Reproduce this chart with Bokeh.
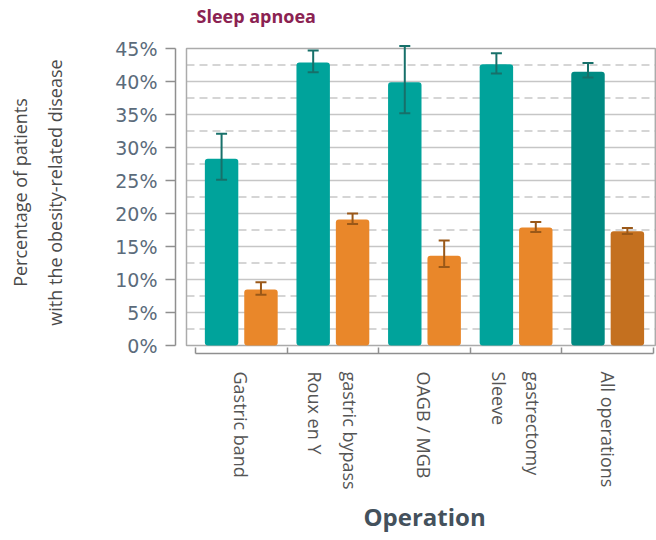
import numpy as np
from bokeh.plotting import figure
from bokeh.models import (ColumnDataSource, Range1d, LinearAxis, FixedTicker,
                          Whisker, TeeHead, PrintfTickFormatter, Title)
from bokeh.embed import file_html
from bokeh.resources import INLINE

# ---------------- data ----------------
categories = ["Gastric band", "Roux en Y\ngastric bypass", "OAGB / MGB",
              "Sleeve\ngastrectomy", "All operations"]
before_surgery = [28.3, 42.9, 39.9, 42.6, 41.5]
before_low = [25.1, 41.4, 35.2, 41.2, 40.6]
before_high = [32.1, 44.7, 45.4, 44.3, 42.8]
after_surgery = [8.5, 19.1, 13.6, 17.9, 17.3]
after_low = [7.7, 18.4, 11.9, 17.2, 16.9]
after_high = [9.6, 20.0, 15.9, 18.7, 17.8]
y_ticks = [0, 5, 10, 15, 20, 25, 30, 35, 40, 45]
solid_grid = [5, 10, 15, 20, 25, 30, 35, 40]
dashed_grid = [2.5, 7.5, 12.5, 17.5, 22.5, 27.5, 32.5, 37.5, 42.5]

# ---------------- styles ----------------
TEAL, TEAL_DARK = "#00a39b", "#008a82"
ORANGE, ORANGE_DARK = "#e9872a", "#c4701f"
TEAL_ERR, ORANGE_ERR = "#17706a", "#9a5818"
teal_colors = [TEAL] * 4 + [TEAL_DARK]
orange_colors = [ORANGE] * 4 + [ORANGE_DARK]
FONT = "Open Sans"

n = len(categories)
centers = np.arange(n) + 0.5
OFF, BW = 0.215, 0.365
BOX_L, BOX_R = -0.098, 5.02
LINE_GAP = 0.19  # spacing between lines of a wrapped category label

p = figure(width=656, height=540,
           x_range=Range1d(-0.218, 5.0328), y_range=Range1d(-1.21, 47.58),
           output_backend="svg", toolbar_location=None, x_axis_location=None,
           min_border_left=175, min_border_right=0, min_border_top=31,
           min_border_bottom=187)
p.outline_line_color = None
p.grid.visible = False

# grid lines and box
p.segment(x0=[BOX_L] * len(solid_grid), x1=[BOX_R] * len(solid_grid),
          y0=solid_grid, y1=solid_grid, line_color="#c6c6c6", line_width=1.5)
p.segment(x0=[BOX_L] * len(dashed_grid), x1=[BOX_R] * len(dashed_grid),
          y0=dashed_grid, y1=dashed_grid, line_color="#c8c8c8", line_width=1.5,
          line_dash="8 5")
p.quad(left=[BOX_L], right=[BOX_R], bottom=[0], top=[y_ticks[-1]],
       fill_color=None, line_color="#ababab", line_width=1.5)

# bars
src_b = ColumnDataSource(dict(x=centers - OFF, top=before_surgery,
                              lo=before_low, hi=before_high, color=teal_colors))
src_a = ColumnDataSource(dict(x=centers + OFF, top=after_surgery,
                              lo=after_low, hi=after_high, color=orange_colors))
p.vbar(x="x", top="top", bottom=0, width=BW, fill_color="color",
       line_color=None, border_radius=3, source=src_b)
p.vbar(x="x", top="top", bottom=0, width=BW, fill_color="color",
       line_color=None, border_radius=3, source=src_a)

for src, col in ((src_b, TEAL_ERR), (src_a, ORANGE_ERR)):
    w = Whisker(source=src, base="x", upper="hi", lower="lo", dimension="height",
                line_color=col, line_width=2, level="overlay",
                upper_head=TeeHead(size=11, line_color=col, line_width=2),
                lower_head=TeeHead(size=11, line_color=col, line_width=2))
    p.add_layout(w)

# y axis
yax = p.yaxis[0]
yax.ticker = FixedTicker(ticks=y_ticks)
yax.bounds = (y_ticks[0], y_ticks[-1])
yax.formatter = PrintfTickFormatter(format="%d%%")
yax.major_tick_out = 10
yax.major_tick_in = 0
yax.minor_tick_line_color = None
yax.axis_line_color = "#8f8f8f"
yax.axis_line_width = 1.5
yax.major_tick_line_color = "#8f8f8f"
yax.major_tick_line_width = 1.5
yax.major_label_text_font = "DejaVu Sans"
yax.major_label_text_font_size = "19px"
yax.major_label_text_color = "#5b6b7b"
yax.major_label_standoff = 8
yax.axis_label = "Percentage of patients\nwith the obesity-related disease"
yax.axis_label_text_font = FONT
yax.axis_label_text_font_size = "18px"
yax.axis_label_text_font_style = "normal"
yax.axis_label_text_color = "#4a4a4a"
yax.axis_label_text_line_height = 1.45
yax.axis_label_standoff = 45

# x axis: boundary ticks
bx = LinearAxis(ticker=FixedTicker(ticks=list(range(n + 1))), bounds=(0, n),
                major_tick_in=6, major_tick_out=0,
                major_label_overrides={i: "" for i in range(n + 1)},
                major_label_text_font_size="0px", major_label_standoff=0,
                axis_line_color="#8f8f8f", axis_line_width=1.5,
                major_tick_line_color="#8f8f8f", major_tick_line_width=1.5,
                minor_tick_line_color=None)
p.add_layout(bx, "below")

# x axis: category labels (one tick per text line, wrapped lines side by side)
label_pos, label_txt = [], []
for c, cat in zip(centers, categories):
    lines = cat.split("\n")
    k = len(lines)
    for j, line in enumerate(lines):
        label_pos.append(round(float(c + (j - (k - 1) / 2) * 2 * LINE_GAP), 4))
        label_txt.append(line)
overrides = {}
for pos, txt in zip(label_pos, label_txt):
    overrides[pos] = txt
    overrides[str(pos)] = txt
lx = LinearAxis(ticker=FixedTicker(ticks=label_pos),
                major_label_overrides=overrides,
                major_label_orientation="vertical",
                axis_line_color=None, major_tick_line_color=None,
                major_tick_out=0, major_tick_in=0, minor_tick_line_color=None,
                major_label_standoff=18,
                major_label_text_font=FONT, major_label_text_font_size="18px",
                major_label_text_color="#555555")
p.add_layout(lx, "below")

p.add_layout(Title(text="Operation", align="left", offset=188, standoff=11,
                   text_font=FONT, text_font_size="24px", text_font_style="bold",
                   text_color="#44515c"), "below")

p.title.text = "Sleep apnoea"
p.title.align = "left"
p.title.offset = 21
p.title.standoff = 4
p.title.vertical_align = "top"
p.title.text_font = FONT
p.title.text_font_size = "18px"
p.title.text_font_style = "bold"
p.title.text_color = "#8b2252"

open("out.html", "w").write(file_html(p, INLINE))
